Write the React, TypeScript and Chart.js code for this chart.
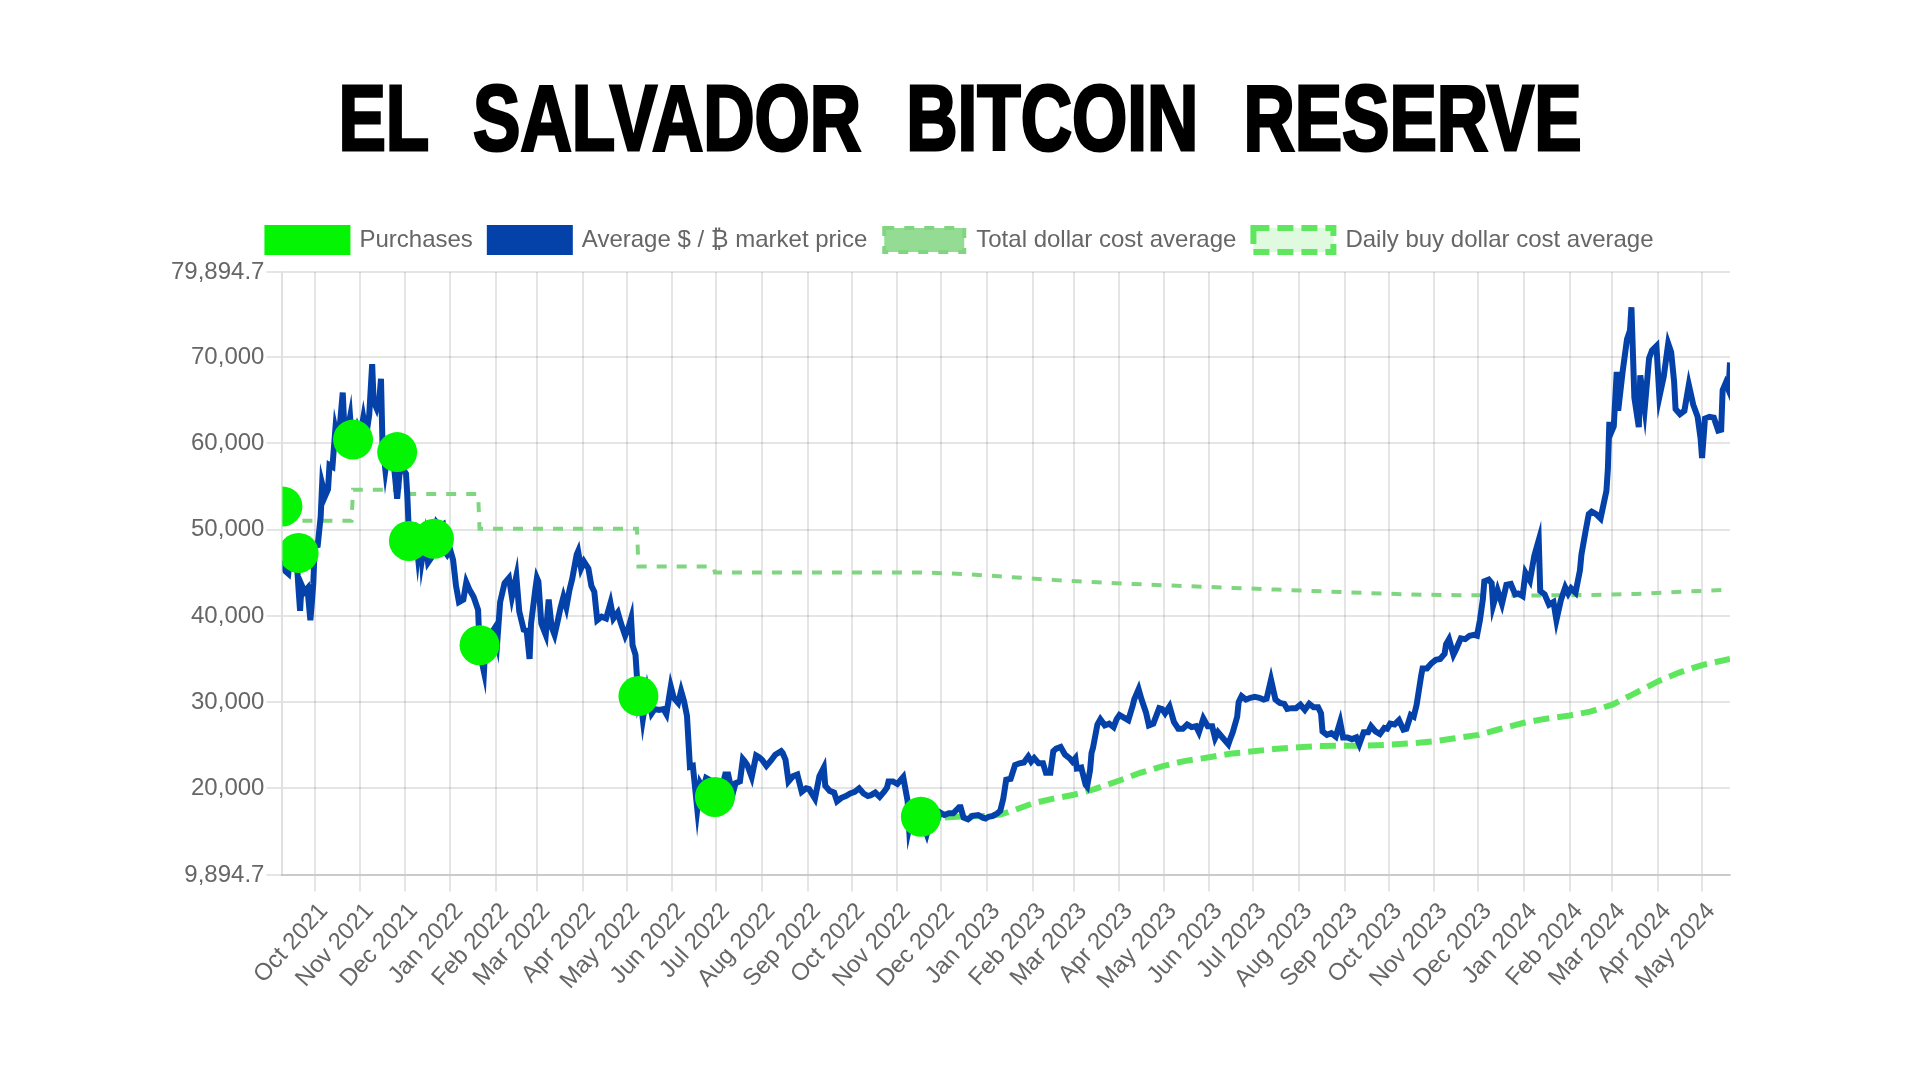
import React, { useEffect, useRef } from "react";
import { Chart, registerables } from "chart.js";

Chart.register(...registerables);

const chartTitle = "EL SALVADOR BITCOIN RESERVE";

const seriesLabels = [
  "Purchases",
  "Average $ / ₿ market price",
  "Total dollar cost average",
  "Daily buy dollar cost average",
];

const xMinDate = "2021-09-09";
const xMaxDate = "2024-05-20";

const xTickDates = [
  "2021-10-01", "2021-11-01", "2021-12-01", "2022-01-01", "2022-02-01", "2022-03-01",
  "2022-04-01", "2022-05-01", "2022-06-01", "2022-07-01", "2022-08-01", "2022-09-01",
  "2022-10-01", "2022-11-01", "2022-12-01", "2023-01-01", "2023-02-01", "2023-03-01",
  "2023-04-01", "2023-05-01", "2023-06-01", "2023-07-01", "2023-08-01", "2023-09-01",
  "2023-10-01", "2023-11-01", "2023-12-01", "2024-01-01", "2024-02-01", "2024-03-01",
  "2024-04-01", "2024-05-01",
];

const xTickLabels = [
  "Oct 2021", "Nov 2021", "Dec 2021", "Jan 2022", "Feb 2022", "Mar 2022",
  "Apr 2022", "May 2022", "Jun 2022", "Jul 2022", "Aug 2022", "Sep 2022",
  "Oct 2022", "Nov 2022", "Dec 2022", "Jan 2023", "Feb 2023", "Mar 2023",
  "Apr 2023", "May 2023", "Jun 2023", "Jul 2023", "Aug 2023", "Sep 2023",
  "Oct 2023", "Nov 2023", "Dec 2023", "Jan 2024", "Feb 2024", "Mar 2024",
  "Apr 2024", "May 2024",
];

const yTickValues = [9894.7, 20000, 30000, 40000, 50000, 60000, 70000, 79894.7];

const purchases: [string, number][] = [
  ["2021-09-09", 52700], ["2021-09-20", 47300], ["2021-10-27", 60450], ["2021-11-26", 59000],
  ["2021-12-04", 48700], ["2021-12-21", 48950], ["2022-01-21", 36600], ["2022-05-09", 30700],
  ["2022-06-30", 19000], ["2022-11-17", 16700],
];

const marketPrice: [string, number][] = [
  ["2021-09-09", 46400], ["2021-09-11", 45200], ["2021-09-13", 44900], ["2021-09-15", 48100],
  ["2021-09-16", 47800], ["2021-09-18", 48300], ["2021-09-20", 43000], ["2021-09-21", 40600],
  ["2021-09-22", 43600], ["2021-09-24", 42800], ["2021-09-26", 43200], ["2021-09-28", 39500],
  ["2021-09-29", 41500], ["2021-09-30", 43800], ["2021-10-01", 48100], ["2021-10-03", 48200],
  ["2021-10-05", 51500], ["2021-10-06", 55300], ["2021-10-08", 53900], ["2021-10-10", 54700],
  ["2021-10-11", 57500], ["2021-10-13", 57300], ["2021-10-15", 61700], ["2021-10-16", 60900],
  ["2021-10-18", 62000], ["2021-10-20", 65900], ["2021-10-21", 62200], ["2021-10-23", 61300],
  ["2021-10-25", 63100], ["2021-10-27", 58400], ["2021-10-28", 60600], ["2021-10-30", 61900],
  ["2021-11-01", 61000], ["2021-11-03", 63000], ["2021-11-05", 61000], ["2021-11-07", 63300],
  ["2021-11-09", 69200], ["2021-11-10", 64900], ["2021-11-12", 64100], ["2021-11-14", 65400],
  ["2021-11-15", 67500], ["2021-11-16", 60100], ["2021-11-18", 56900], ["2021-11-19", 58100],
  ["2021-11-21", 58700], ["2021-11-23", 57600], ["2021-11-24", 57100], ["2021-11-26", 53600],
  ["2021-11-28", 57200], ["2021-11-30", 57000], ["2021-12-02", 56500], ["2021-12-03", 53600],
  ["2021-12-04", 49400], ["2021-12-06", 50600], ["2021-12-08", 50500], ["2021-12-10", 47100],
  ["2021-12-12", 50100], ["2021-12-13", 46700], ["2021-12-15", 48900], ["2021-12-17", 46200],
  ["2021-12-19", 46700], ["2021-12-21", 48900], ["2021-12-23", 50800], ["2021-12-25", 50400],
  ["2021-12-27", 50600], ["2021-12-28", 47600], ["2021-12-30", 47100], ["2022-01-01", 47700],
  ["2022-01-03", 46500], ["2022-01-05", 43500], ["2022-01-07", 41600], ["2022-01-10", 41900],
  ["2022-01-12", 43900], ["2022-01-14", 43100], ["2022-01-17", 42200], ["2022-01-20", 40700],
  ["2022-01-21", 36500], ["2022-01-22", 35100], ["2022-01-24", 33500], ["2022-01-25", 36900],
  ["2022-01-28", 37700], ["2022-01-31", 38500], ["2022-02-02", 36900], ["2022-02-04", 41600],
  ["2022-02-07", 43800], ["2022-02-10", 44400], ["2022-02-12", 42200], ["2022-02-15", 44600],
  ["2022-02-17", 40500], ["2022-02-20", 38400], ["2022-02-22", 38300], ["2022-02-24", 35000],
  ["2022-02-25", 39100], ["2022-02-28", 43200], ["2022-03-01", 44400], ["2022-03-02", 44000],
  ["2022-03-04", 39100], ["2022-03-07", 37800], ["2022-03-09", 41900], ["2022-03-11", 38700],
  ["2022-03-13", 37800], ["2022-03-15", 39300], ["2022-03-17", 40900], ["2022-03-19", 42200],
  ["2022-03-21", 41000], ["2022-03-23", 42900], ["2022-03-25", 44300], ["2022-03-28", 47100],
  ["2022-03-29", 47500], ["2022-03-31", 45500], ["2022-04-02", 46300], ["2022-04-05", 45500],
  ["2022-04-07", 43500], ["2022-04-09", 42800], ["2022-04-11", 39500], ["2022-04-14", 39900],
  ["2022-04-17", 39700], ["2022-04-20", 41500], ["2022-04-22", 39700], ["2022-04-25", 40400],
  ["2022-04-27", 39200], ["2022-04-30", 37700], ["2022-05-02", 38500], ["2022-05-04", 39700],
  ["2022-05-05", 36600], ["2022-05-07", 35500], ["2022-05-09", 30300], ["2022-05-10", 31000],
  ["2022-05-12", 28000], ["2022-05-15", 31300], ["2022-05-18", 28700], ["2022-05-20", 29200],
  ["2022-05-23", 29100], ["2022-05-26", 29200], ["2022-05-28", 28600], ["2022-05-31", 31800],
  ["2022-06-02", 30500], ["2022-06-05", 29900], ["2022-06-07", 31300], ["2022-06-09", 30100],
  ["2022-06-11", 28400], ["2022-06-13", 22500], ["2022-06-15", 22600], ["2022-06-18", 17600],
  ["2022-06-20", 20600], ["2022-06-22", 20000], ["2022-06-24", 21200], ["2022-06-26", 21000],
  ["2022-06-28", 20300], ["2022-06-30", 19000], ["2022-07-02", 19300], ["2022-07-05", 20200],
  ["2022-07-07", 21600], ["2022-07-09", 21600], ["2022-07-12", 19300], ["2022-07-14", 20600],
  ["2022-07-17", 20800], ["2022-07-19", 23400], ["2022-07-20", 23200], ["2022-07-22", 22700],
  ["2022-07-25", 21300], ["2022-07-28", 23800], ["2022-07-30", 23600], ["2022-08-01", 23300],
  ["2022-08-04", 22600], ["2022-08-07", 23200], ["2022-08-10", 23900], ["2022-08-14", 24300],
  ["2022-08-15", 24100], ["2022-08-17", 23300], ["2022-08-19", 20800], ["2022-08-22", 21400],
  ["2022-08-25", 21600], ["2022-08-28", 19600], ["2022-08-31", 20000], ["2022-09-02", 19900],
  ["2022-09-06", 18800], ["2022-09-09", 21400], ["2022-09-12", 22400], ["2022-09-13", 20300],
  ["2022-09-16", 19700], ["2022-09-19", 19500], ["2022-09-21", 18500], ["2022-09-24", 18900],
  ["2022-09-27", 19100], ["2022-09-30", 19400], ["2022-10-03", 19600], ["2022-10-06", 20000],
  ["2022-10-09", 19400], ["2022-10-12", 19100], ["2022-10-14", 19200], ["2022-10-17", 19500],
  ["2022-10-20", 19000], ["2022-10-23", 19600], ["2022-10-25", 20100], ["2022-10-26", 20800],
  ["2022-10-29", 20800], ["2022-11-01", 20500], ["2022-11-05", 21300], ["2022-11-08", 18500],
  ["2022-11-09", 15400], ["2022-11-11", 17000], ["2022-11-14", 16600], ["2022-11-17", 16700],
  ["2022-11-21", 14700], ["2022-11-24", 16600], ["2022-11-28", 16200], ["2022-11-30", 17200],
  ["2022-12-03", 16900], ["2022-12-06", 17100], ["2022-12-09", 17100], ["2022-12-13", 17800],
  ["2022-12-14", 17800], ["2022-12-16", 16600], ["2022-12-19", 16400], ["2022-12-22", 16800],
  ["2022-12-26", 16900], ["2022-12-29", 16600], ["2022-12-31", 16500], ["2023-01-02", 16700],
  ["2023-01-05", 16800], ["2023-01-08", 17100], ["2023-01-10", 17400], ["2023-01-12", 18800],
  ["2023-01-14", 21000], ["2023-01-17", 21100], ["2023-01-20", 22700], ["2023-01-23", 22900],
  ["2023-01-26", 23000], ["2023-01-29", 23700], ["2023-01-31", 23100], ["2023-02-02", 23500],
  ["2023-02-05", 22900], ["2023-02-08", 22900], ["2023-02-10", 21800], ["2023-02-13", 21800],
  ["2023-02-15", 24300], ["2023-02-17", 24600], ["2023-02-20", 24800], ["2023-02-23", 23900],
  ["2023-02-26", 23500], ["2023-02-28", 23100], ["2023-03-02", 23500], ["2023-03-03", 22300],
  ["2023-03-06", 22400], ["2023-03-09", 20400], ["2023-03-10", 20200], ["2023-03-12", 22100],
  ["2023-03-13", 24100], ["2023-03-14", 24700], ["2023-03-17", 27400], ["2023-03-19", 28000],
  ["2023-03-22", 27300], ["2023-03-25", 27500], ["2023-03-28", 27100], ["2023-03-30", 28000],
  ["2023-04-01", 28500], ["2023-04-04", 28200], ["2023-04-07", 27900], ["2023-04-10", 29600],
  ["2023-04-11", 30300], ["2023-04-14", 31500], ["2023-04-16", 30300], ["2023-04-19", 28800],
  ["2023-04-21", 27300], ["2023-04-24", 27500], ["2023-04-26", 28400], ["2023-04-28", 29300],
  ["2023-04-30", 29200], ["2023-05-02", 28700], ["2023-05-05", 29500], ["2023-05-08", 27700],
  ["2023-05-11", 26900], ["2023-05-14", 26900], ["2023-05-17", 27400], ["2023-05-20", 27100],
  ["2023-05-23", 27200], ["2023-05-25", 26500], ["2023-05-28", 28100], ["2023-05-31", 27200],
  ["2023-06-03", 27200], ["2023-06-05", 25800], ["2023-06-07", 26500], ["2023-06-10", 25900],
  ["2023-06-14", 25100], ["2023-06-15", 25600], ["2023-06-17", 26500], ["2023-06-20", 28300],
  ["2023-06-21", 30000], ["2023-06-23", 30700], ["2023-06-26", 30300], ["2023-06-29", 30500],
  ["2023-07-02", 30600], ["2023-07-05", 30500], ["2023-07-08", 30300], ["2023-07-10", 30400],
  ["2023-07-13", 32600], ["2023-07-16", 30300], ["2023-07-19", 29900], ["2023-07-22", 29800],
  ["2023-07-24", 29200], ["2023-07-27", 29300], ["2023-07-30", 29300], ["2023-08-02", 29700],
  ["2023-08-05", 29100], ["2023-08-08", 29800], ["2023-08-11", 29400], ["2023-08-14", 29400],
  ["2023-08-16", 28700], ["2023-08-17", 26600], ["2023-08-20", 26200], ["2023-08-23", 26400],
  ["2023-08-26", 26000], ["2023-08-29", 27700], ["2023-08-31", 25900], ["2023-09-03", 25900],
  ["2023-09-06", 25700], ["2023-09-09", 25900], ["2023-09-11", 25100], ["2023-09-14", 26500],
  ["2023-09-17", 26500], ["2023-09-19", 27200], ["2023-09-22", 26600], ["2023-09-25", 26300],
  ["2023-09-28", 27000], ["2023-09-30", 26900], ["2023-10-02", 27500], ["2023-10-05", 27400],
  ["2023-10-08", 27900], ["2023-10-11", 26800], ["2023-10-13", 26900], ["2023-10-16", 28500],
  ["2023-10-18", 28300], ["2023-10-20", 29700], ["2023-10-23", 33000], ["2023-10-24", 33900],
  ["2023-10-27", 33900], ["2023-10-30", 34500], ["2023-11-02", 34900], ["2023-11-05", 35000],
  ["2023-11-08", 35600], ["2023-11-09", 36700], ["2023-11-11", 37300], ["2023-11-14", 35500],
  ["2023-11-16", 36200], ["2023-11-19", 37400], ["2023-11-22", 37300], ["2023-11-25", 37700],
  ["2023-11-28", 37800], ["2023-11-30", 37700], ["2023-12-02", 39500], ["2023-12-04", 41900],
  ["2023-12-05", 44000], ["2023-12-08", 44200], ["2023-12-10", 43800], ["2023-12-11", 41200],
  ["2023-12-14", 43000], ["2023-12-17", 41400], ["2023-12-20", 43600], ["2023-12-23", 43700],
  ["2023-12-26", 42500], ["2023-12-28", 42600], ["2023-12-31", 42300], ["2024-01-02", 45000],
  ["2024-01-05", 44100], ["2024-01-08", 47000], ["2024-01-11", 48800], ["2024-01-12", 42900],
  ["2024-01-15", 42500], ["2024-01-18", 41300], ["2024-01-21", 41600], ["2024-01-23", 39500],
  ["2024-01-26", 41800], ["2024-01-29", 43300], ["2024-01-31", 42600], ["2024-02-02", 43200],
  ["2024-02-05", 42700], ["2024-02-08", 45300], ["2024-02-09", 47100], ["2024-02-12", 50000],
  ["2024-02-14", 51800], ["2024-02-16", 52100], ["2024-02-19", 51800], ["2024-02-22", 51300],
  ["2024-02-26", 54500], ["2024-02-27", 57100], ["2024-02-28", 62500], ["2024-02-29", 61200],
  ["2024-03-02", 62000], ["2024-03-04", 68300], ["2024-03-05", 63800], ["2024-03-08", 68300],
  ["2024-03-11", 72100], ["2024-03-13", 73100], ["2024-03-14", 75800], ["2024-03-16", 65300],
  ["2024-03-19", 61900], ["2024-03-20", 67900], ["2024-03-23", 64000], ["2024-03-26", 69900],
  ["2024-03-28", 70800], ["2024-03-31", 71300], ["2024-04-02", 65400], ["2024-04-05", 67800],
  ["2024-04-08", 71600], ["2024-04-10", 70600], ["2024-04-12", 67200], ["2024-04-13", 64000],
  ["2024-04-16", 63400], ["2024-04-19", 63800], ["2024-04-22", 66800], ["2024-04-25", 64500],
  ["2024-04-28", 63100], ["2024-04-30", 60600], ["2024-05-01", 58300], ["2024-05-03", 62900],
  ["2024-05-06", 63100], ["2024-05-09", 63000], ["2024-05-12", 61500], ["2024-05-14", 61600],
  ["2024-05-15", 66200], ["2024-05-17", 67000], ["2024-05-19", 66200], ["2024-05-20", 69400],
];

const totalCostAverage: [string, number][] = [
  ["2021-09-09", 51040], ["2021-10-26", 51040], ["2021-10-27", 54640], ["2021-11-25", 54640],
  ["2021-11-26", 54910], ["2021-12-03", 54910], ["2021-12-04", 54140], ["2022-01-20", 54140],
  ["2022-01-21", 50120], ["2022-05-08", 50120], ["2022-05-09", 45740], ["2022-06-29", 45740],
  ["2022-06-30", 45040], ["2022-11-17", 45040], ["2022-12-17", 44850], ["2023-01-17", 44500],
  ["2023-02-17", 44150], ["2023-03-17", 43900], ["2023-04-17", 43650], ["2023-05-17", 43450],
  ["2023-06-17", 43250], ["2023-07-17", 43050], ["2023-08-17", 42850], ["2023-09-17", 42650],
  ["2023-10-17", 42480], ["2023-11-17", 42400], ["2023-12-17", 42380], ["2024-01-17", 42380],
  ["2024-02-17", 42420], ["2024-03-17", 42550], ["2024-04-17", 42800], ["2024-05-20", 43040],
];

const dailyBuyCostAverage: [string, number][] = [
  ["2022-11-17", 16700], ["2022-12-01", 16600], ["2022-12-15", 16750], ["2023-01-01", 16800],
  ["2023-01-10", 16950], ["2023-01-20", 17500], ["2023-02-01", 18250], ["2023-02-15", 18800],
  ["2023-03-01", 19250], ["2023-03-15", 19900], ["2023-04-01", 20900], ["2023-04-15", 21800],
  ["2023-05-01", 22600], ["2023-05-15", 23150], ["2023-06-01", 23600], ["2023-06-15", 24000],
  ["2023-07-01", 24300], ["2023-07-15", 24550], ["2023-08-01", 24750], ["2023-08-15", 24900],
  ["2023-09-01", 24950], ["2023-09-15", 24950], ["2023-10-01", 25050], ["2023-10-15", 25200],
  ["2023-11-01", 25450], ["2023-11-15", 25800], ["2023-12-01", 26200], ["2023-12-15", 26850],
  ["2024-01-01", 27600], ["2024-01-15", 28050], ["2024-02-01", 28450], ["2024-02-15", 28900],
  ["2024-03-01", 29700], ["2024-03-15", 30900], ["2024-04-01", 32400], ["2024-04-15", 33400],
  ["2024-05-01", 34300], ["2024-05-20", 35000],
];

const toTs = (s: string) => {
  const [y, m, d] = s.split("-").map(Number);
  return Date.UTC(y, m - 1, d);
};

const toPoints = (rows: [string, number][]) => rows.map(([d, v]) => ({ x: toTs(d), y: v }));

const FONT = "'Liberation Sans', 'Noto Sans', 'DejaVu Sans', Arial, sans-serif";

const legendSpacer = {
  id: "legendSpacer",
  beforeInit(chart: any) {
    const legend = chart.legend;
    if (!legend) return;
    const origFit = legend.fit;
    legend.fit = function () {
      origFit.call(this);
      this.height += 10;
    };
    const origDraw = legend.draw;
    legend.draw = function () {
      const ctx = this.ctx;
      ctx.save();
      ctx.translate(11, 0);
      origDraw.call(this);
      ctx.restore();
    };
  },
};

export default function App() {
  const canvasRef = useRef<HTMLCanvasElement | null>(null);

  useEffect(() => {
    if (!canvasRef.current) return;
    const chart = new Chart(canvasRef.current, {
      type: "line",
      data: {
        datasets: [
          {
            label: seriesLabels[0],
            data: toPoints(purchases),
            showLine: false,
            backgroundColor: "rgb(4, 245, 4)",
            borderColor: "rgb(4, 245, 4)",
            borderWidth: 6,
            pointRadius: 20,
            pointHoverRadius: 20,
            pointBorderWidth: 0,
          },
          {
            label: seriesLabels[1],
            data: toPoints(marketPrice),
            backgroundColor: "rgb(4, 66, 170)",
            borderColor: "rgb(4, 66, 170)",
            borderWidth: 6,
            pointRadius: 0,
            tension: 0,
            borderJoinStyle: "miter",
          },
          {
            label: seriesLabels[2],
            data: toPoints(totalCostAverage),
            backgroundColor: "rgb(148, 220, 148)",
            borderColor: "rgb(128, 214, 128)",
            borderWidth: 4,
            borderDash: [10, 10],
            pointRadius: 0,
            tension: 0,
          },
          {
            label: seriesLabels[3],
            data: toPoints(dailyBuyCostAverage),
            backgroundColor: "rgba(94, 230, 94, 0.2)",
            borderColor: "rgb(94, 230, 94)",
            borderWidth: 6,
            borderDash: [16, 8],
            pointRadius: 0,
            tension: 0,
          },
        ],
      },
      options: {
        animation: false,
        responsive: true,
        maintainAspectRatio: false,
        layout: { padding: { top: 211, left: 169, right: 190, bottom: 76 } },
        font: { family: FONT },
        plugins: {
          legend: {
            position: "top",
            labels: {
              font: { family: FONT, size: 24 },
              color: "#666",
              boxWidth: 80,
              boxHeight: 24,
              padding: 17,
            },
          },
          tooltip: { enabled: false },
        },
        scales: {
          x: {
            type: "linear",
            min: toTs(xMinDate),
            max: toTs(xMaxDate),
            afterBuildTicks: (axis: any) => {
              axis.ticks = xTickDates.map((d) => ({ value: toTs(d) }));
            },
            ticks: {
              autoSkip: false,
              minRotation: 48,
              maxRotation: 48,
              padding: 6,
              labelOffset: 9,
              color: "#666",
              font: { family: FONT, size: 24 },
              callback: (_v: any, i: number) => xTickLabels[i],
            },
            grid: { lineWidth: 2, tickLength: 16, color: "rgba(0,0,0,0.1)" },
            border: { width: 2, color: "rgba(0,0,0,0.12)" },
          },
          y: {
            type: "linear",
            min: yTickValues[0],
            max: yTickValues[yTickValues.length - 1],
            afterBuildTicks: (axis: any) => {
              axis.ticks = yTickValues.map((v) => ({ value: v }));
            },
            ticks: {
              padding: 2,
              color: "#666",
              font: { family: FONT, size: 24 },
              callback: (v: any) =>
                Number(v).toLocaleString("en-US", { maximumFractionDigits: 1 }),
            },
            grid: { lineWidth: 2, tickLength: 16, color: "rgba(0,0,0,0.1)" },
            border: { width: 2, color: "rgba(0,0,0,0.12)" },
          },
        },
      } as any,
      plugins: [legendSpacer],
    });
    return () => chart.destroy();
  }, []);

  return (
    <div
      style={{
        position: "fixed",
        left: 0,
        top: 0,
        width: 1920,
        height: 1077,
        background: "#fff",
        overflow: "hidden",
      }}
    >
      <div
        style={{
          position: "absolute",
          left: 0,
          top: 72,
          width: 1920,
          textAlign: "center",
          fontFamily: "'Liberation Sans', Arial, sans-serif",
          fontWeight: 700,
          fontSize: 92,
          lineHeight: "92px",
          color: "#000",
          whiteSpace: "nowrap",
          transform: "scaleX(0.772)",
          wordSpacing: 33,
          WebkitTextStroke: "3px #000",
        }}
      >
        {chartTitle}
      </div>
      <canvas ref={canvasRef} style={{ position: "absolute", left: 0, top: 0, width: 1920, height: 1077 }} />
    </div>
  );
}
